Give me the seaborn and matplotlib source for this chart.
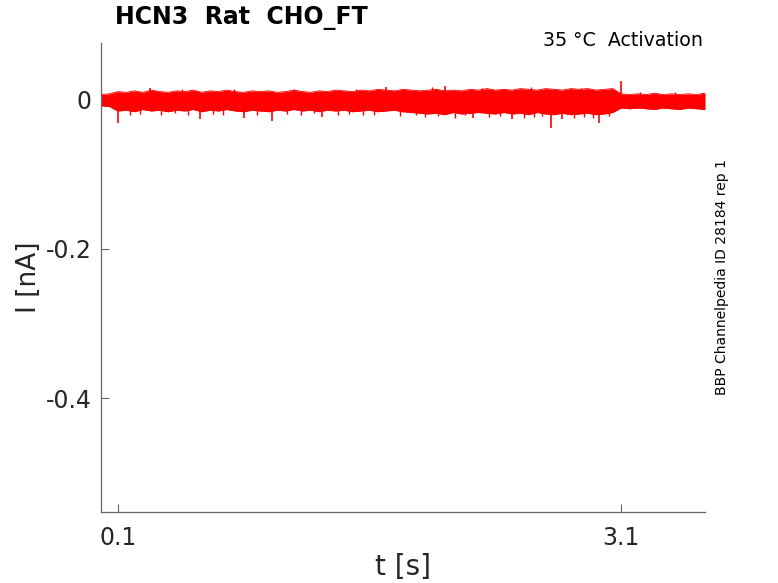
import numpy as np
import pandas as pd
import seaborn as sns
import matplotlib
matplotlib.use("Agg")
import matplotlib.pyplot as plt

# sweep envelope, sampled every dt seconds (values in pA, i.e. 1e-3 nA)
dt = 0.05
upper_pA = [6, 7, 10, 9, 11, 9, 12, 10, 9, 11, 10, 12, 9, 11, 10, 12, 10, 9, 11, 10,
            11, 9, 10, 12, 10, 9, 11, 10, 12, 11, 10, 12, 11, 13, 12, 11, 13, 12, 11, 12,
            13, 11, 12, 11, 13, 12, 14, 12, 13, 12, 14, 13, 12, 14, 13, 12, 14, 13, 14, 12,
            13, 14, 7, 6, 7, 6, 8, 6, 7, 6, 7, 6, 8]
lower_pA = [-9, -10, -16, -15, -17, -14, -16, -15, -17, -15, -16, -14, -17, -15, -16, -14,
            -16, -17, -15, -16, -17, -15, -16, -14, -16, -15, -17, -15, -16, -15, -17, -16,
            -15, -17, -16, -15, -17, -18, -19, -20, -19, -21, -18, -20, -19, -18, -19, -20,
            -18, -20, -19, -21, -18, -20, -21, -19, -21, -20, -19, -21, -20, -18, -12, -13,
            -12, -13, -14, -12, -13, -14, -12, -13, -14]

# single-sample glitches (large ones)
spike_t = [0.10, 0.29, 0.59, 0.85, 1.02, 1.32, 1.70, 2.05, 2.22, 2.45, 2.68, 2.75, 2.97, 3.10, 3.59]
spike_pA = [-32, 15, -27, -25, -30, -24, 16, 17, -26, -27, -39, -27, -32, 24, 8]

# smaller noise excursions along the band edges
blip_t = [0.17, 0.23, 0.36, 0.44, 0.52, 0.67, 0.73, 0.93, 1.11, 1.19, 1.27, 1.41, 1.48,
          1.56, 1.63, 1.78, 1.88, 1.93, 2.01, 2.11, 2.17, 2.31, 2.38, 2.52, 2.58, 2.63,
          2.82, 2.88, 2.93, 3.03, 0.48, 0.79, 1.15, 1.52, 1.97, 2.27, 2.56, 2.86, 3.21, 3.42]
blip_pA = [-21, -20, -22, -19, -21, -20, -22, -21, -20, -22, -19, -21, -20, -22, -21, -23,
           -22, -24, -23, -25, -22, -24, -23, -25, -24, -23, -26, -24, -25, -23, 13, 14,
           13, 14, 16, 15, 16, 15, 9, 9]

x_ticks = [0.1, 3.1]
y_ticks = [-0.4, -0.2, 0]

title = "HCN3  Rat  CHO_FT"
protocol = "35 °C  Activation"
source = "BBP Channelpedia ID 28184 rep 1"

t = np.arange(len(upper_pA)) * dt
df = pd.DataFrame({"t": t,
                   "upper": np.array(upper_pA) / 1000.0,
                   "lower": np.array(lower_pA) / 1000.0})

sns.set_style("white")
plt.rcParams["font.family"] = ["DejaVu Sans"]
plt.rcParams["axes.unicode_minus"] = False

fig = plt.figure(figsize=(7.78, 5.83), dpi=100)
ax = fig.add_axes([101 / 778, 71 / 583, 604 / 778, 469 / 583])

red = "#ff0000"
ax.fill_between(df["t"], df["lower"], df["upper"], color=red, lw=0)
sns.lineplot(data=df, x="t", y="upper", color=red, lw=0.6, ax=ax)
sns.lineplot(data=df, x="t", y="lower", color=red, lw=0.6, ax=ax)
ax.vlines(spike_t, 0, np.array(spike_pA) / 1000.0, color=red, lw=1.2)
ax.vlines(blip_t, 0, np.array(blip_pA) / 1000.0, color=red, lw=1.0)

ax.set_xlim(0, 3.6)
ax.set_ylim(-0.5525, 0.075)
ax.set_xticks(x_ticks)
ax.set_xticklabels([str(v) for v in x_ticks])
ax.set_yticks(y_ticks)
ax.set_yticklabels(["-0.4", "-0.2", "0"])

for side in ["top", "right"]:
    ax.spines[side].set_visible(False)
for side in ["left", "bottom"]:
    ax.spines[side].set_color("#666666")
    ax.spines[side].set_linewidth(0.9)

ax.tick_params(axis="both", bottom=True, left=True, direction="in", length=6,
               width=0.8, color="#666666", labelcolor="#262626", labelsize=17)
ax.tick_params(axis="x", pad=10)
ax.tick_params(axis="y", pad=7)

ax.set_xlabel("t [s]", fontsize=20, color="#262626")
ax.set_ylabel("I [nA]", fontsize=19, color="#262626")
ax.xaxis.label.set_va("center")
ax.yaxis.label.set_va("center")
ax.xaxis.set_label_coords(0.5, (512 - 567) / 469)
ax.yaxis.set_label_coords((29 - 101) / 604, 0.5)

fig.text(115 / 778, 1 - 18 / 583, title, fontsize=17, fontweight="bold",
         ha="left", va="center", color="black")
fig.text(703 / 778, 1 - 40 / 583, protocol, fontsize=13.7,
         ha="right", va="center", color="black")
fig.text(722 / 778, 1 - 277 / 583, source, fontsize=10, rotation=90,
         ha="center", va="center", color="black")

fig.savefig("out.png", dpi=100)
